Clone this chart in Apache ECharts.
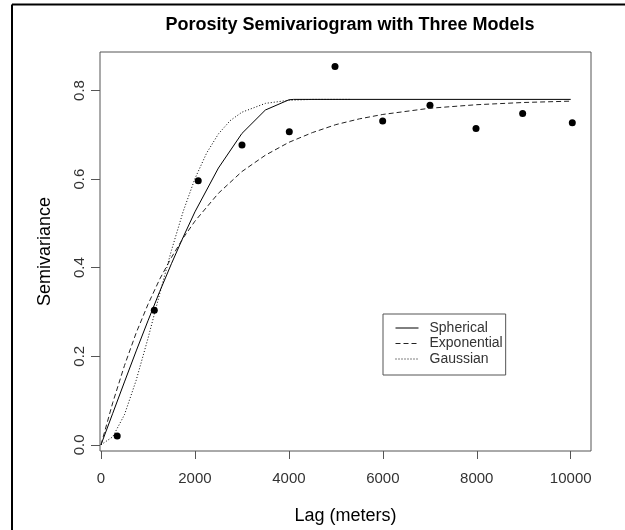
<!DOCTYPE html>
<html>
<head>
<meta charset="utf-8">
<script src="https://cdn.jsdelivr.net/npm/echarts@6/dist/echarts.min.js"></script>
<style>
  html, body { margin: 0; padding: 0; background: #fff; }
  #chart { width: 625px; height: 530px; }
</style>
</head>
<body>
<div id="chart"></div>
<script>
// empirical semivariogram points
var lagPts = [345, 1135, 2070, 3002, 4009, 4982, 5997, 7004, 7984, 8977, 10034];
var semivar = [0.02, 0.304, 0.596, 0.677, 0.707, 0.854, 0.731, 0.767, 0.714, 0.748, 0.727];

// fitted models
var sphLag = [0, 250, 500, 750, 1000, 1250, 1500, 1750, 2000, 2500, 3000, 3500, 4000, 4100, 10000];
var sphVal = [0, 0.071, 0.142, 0.212, 0.280, 0.346, 0.409, 0.469, 0.526, 0.625, 0.703, 0.756, 0.779, 0.78, 0.78];

var expLag = [0, 250, 500, 750, 1000, 1250, 1500, 1750, 2000, 2500, 3000, 3500, 4000, 4500, 5000, 5500, 6000, 7000, 8000, 9000, 10000];
var expVal = [0, 0.095, 0.179, 0.253, 0.317, 0.374, 0.423, 0.467, 0.505, 0.568, 0.617, 0.654, 0.683, 0.705, 0.723, 0.736, 0.746, 0.760, 0.768, 0.773, 0.776];

var gauLag = [0, 250, 500, 750, 1000, 1250, 1500, 1750, 2000, 2250, 2500, 2750, 3000, 3500, 4000, 4500, 5300];
var gauVal = [0, 0.018, 0.068, 0.146, 0.240, 0.341, 0.439, 0.527, 0.601, 0.659, 0.702, 0.732, 0.751, 0.771, 0.778, 0.780, 0.780];

var xTicks = [0, 2000, 4000, 6000, 8000, 10000];
var yTicks = [0, 0.2, 0.4, 0.6, 0.8];

function zip(xs, ys) {
    return xs.map(function (x, i) { return [x, ys[i]]; });
}

var font = 'Liberation Sans, Arial, sans-serif';
var myChart = echarts.init(document.getElementById('chart'));

var option = {
    animation: false,
    title: {
        text: 'Porosity Semivariogram with Three Models',
        left: 345,
        top: 11,
        textAlign: 'center',
        textStyle: { color: '#000', fontSize: 18, fontWeight: 'bold', fontFamily: font }
    },
    graphic: [
        { type: 'line', shape: { x1: 12, y1: 4.5, x2: 625, y2: 4.5 }, style: { stroke: '#000', lineWidth: 2 } },
        { type: 'line', shape: { x1: 12, y1: 4.5, x2: 12, y2: 530 }, style: { stroke: '#000', lineWidth: 2 } }
    ],
    grid: {
        left: 100, top: 52, right: 34, bottom: 74,
        show: true, borderColor: '#555', borderWidth: 1
    },
    legend: {
        orient: 'vertical',
        left: 383, top: 314,
        data: ['Spherical', 'Exponential', 'Gaussian'],
        itemWidth: 23, itemHeight: 14, itemGap: 1.5,
        padding: [7, 3, 9, 12],
        borderColor: '#555', borderWidth: 1, borderRadius: 0,
        itemStyle: { opacity: 0 },
        lineStyle: { width: 1 },
        textStyle: { fontSize: 14, color: '#333', fontFamily: font, padding: [0, 0, 0, 6] }
    },
    xAxis: {
        type: 'value',
        min: -21, max: 10432,
        name: 'Lag (meters)',
        nameLocation: 'middle',
        nameGap: 56,
        nameTextStyle: { color: '#000', fontSize: 18, fontFamily: font },
        splitLine: { show: false },
        axisLine: { show: false, onZero: false },
        axisTick: { show: true, length: 8, customValues: xTicks, lineStyle: { color: '#555' } },
        axisLabel: {
            customValues: xTicks, margin: 20, color: '#333', fontSize: 15, fontFamily: font,
            formatter: function (v) { return String(v); }
        }
    },
    yAxis: {
        type: 'value',
        min: -0.014, max: 0.887,
        name: 'Semivariance',
        nameLocation: 'middle',
        nameGap: 46,
        nameTextStyle: { color: '#000', fontSize: 18, fontFamily: font },
        splitLine: { show: false },
        axisLine: { show: false, onZero: false },
        axisTick: { show: true, length: 9, customValues: yTicks, lineStyle: { color: '#555' } },
        axisLabel: {
            customValues: yTicks, rotate: 90, margin: 13, color: '#333', fontSize: 15, fontFamily: font,
            formatter: function (v) { return v.toFixed(1); }
        }
    },
    series: [
        {
            name: 'Spherical', type: 'line', data: zip(sphLag, sphVal),
            symbol: 'none', lineStyle: { color: '#000', width: 1, type: 'solid' }, itemStyle: { color: '#000' }
        },
        {
            name: 'Exponential', type: 'line', data: zip(expLag, expVal),
            symbol: 'none', lineStyle: { color: '#222', width: 1, type: [5, 3] }, itemStyle: { color: '#222' }
        },
        {
            name: 'Gaussian', type: 'line', data: zip(gauLag, gauVal),
            symbol: 'none', lineStyle: { color: '#000', width: 1, type: [1, 2] }, itemStyle: { color: '#000' }
        },
        {
            name: 'points', type: 'scatter', data: zip(lagPts, semivar),
            symbol: 'circle', symbolSize: 7, itemStyle: { color: '#000', opacity: 1 }
        }
    ]
};

myChart.setOption(option);
</script>
</body>
</html>
